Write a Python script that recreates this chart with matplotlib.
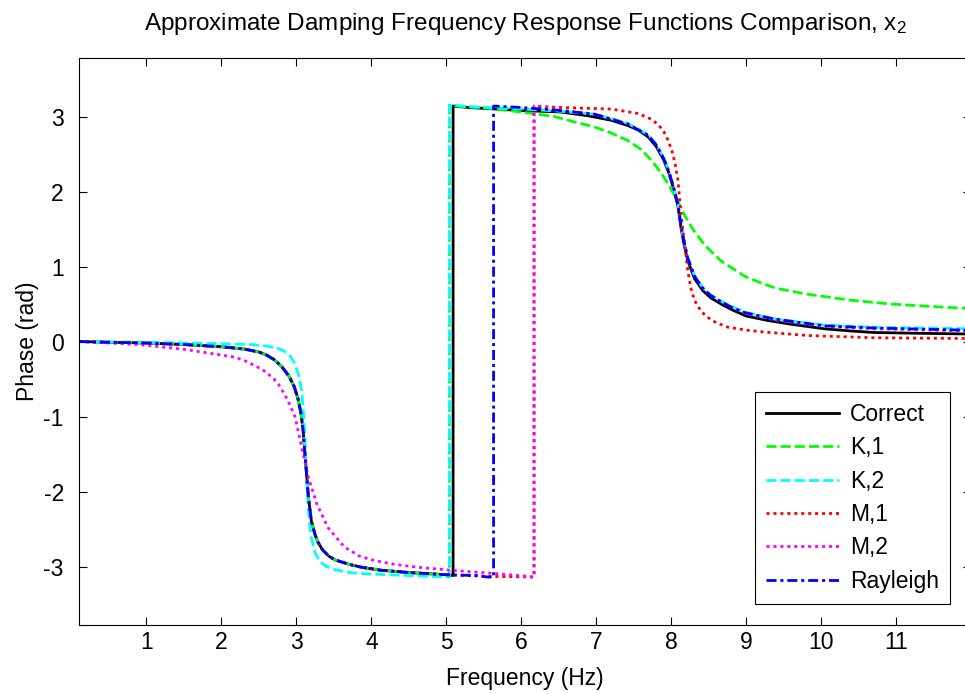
import numpy as np
import matplotlib.pyplot as plt

plt.rcParams['font.family'] = ['Liberation Sans', 'DejaVu Sans']
plt.rcParams['mathtext.fontset'] = 'custom'
plt.rcParams['mathtext.rm'] = 'Liberation Sans'
plt.rcParams['mathtext.it'] = 'Liberation Sans'
plt.rcParams['axes.unicode_minus'] = False

# phase (rad) vs frequency (Hz) for each damping approximation
correct_f = [0.1, 0.5, 1.0, 1.5, 2.0, 2.3, 2.5, 2.6, 2.7, 2.8, 2.9, 2.97, 3.02, 3.06, 3.09, 3.11, 3.13,
             3.16, 3.2, 3.25, 3.29, 3.35, 3.43, 3.51, 3.7, 3.87, 4.13, 4.5, 5.0, 5.09,
             5.09, 5.3, 6.0, 6.53, 6.89, 7.2, 7.42, 7.56, 7.69, 7.8, 7.9, 7.97, 8.03, 8.09, 8.13, 8.17, 8.22,
             8.31, 8.42, 8.53, 8.7, 8.84, 9.0, 9.29, 9.6, 10.04, 10.4, 10.71, 11.3, 12.0]
correct_p = [0.0, -0.01, -0.02, -0.04, -0.07, -0.1, -0.14, -0.18, -0.24, -0.33, -0.46, -0.6, -0.76, -0.95, -1.19, -1.45, -1.7,
             -2.08, -2.4, -2.58, -2.68, -2.78, -2.86, -2.91, -2.97, -3.01, -3.05, -3.08, -3.11, -3.12,
             3.14, 3.12, 3.08, 3.06, 3.01, 2.95, 2.88, 2.82, 2.73, 2.6, 2.42, 2.24, 2.04, 1.8, 1.52, 1.3, 1.08,
             0.84, 0.68, 0.58, 0.48, 0.41, 0.34, 0.28, 0.23, 0.17, 0.14, 0.12, 0.11, 0.1]

k1_f = [0.1, 0.5, 1.0, 1.5, 2.0, 2.3, 2.5, 2.6, 2.7, 2.8, 2.9, 2.97, 3.02, 3.06, 3.09, 3.11, 3.13,
        3.16, 3.2, 3.25, 3.29, 3.35, 3.43, 3.51, 3.7, 3.87, 4.13, 4.5, 5.0, 5.04,
        5.04, 5.56, 6.0, 6.44, 6.7, 6.98, 7.2, 7.42, 7.6, 7.75, 7.87, 7.97, 8.06, 8.18,
        8.3, 8.45, 8.67, 8.98, 9.2, 9.4, 9.82, 10.4, 10.93, 11.6, 12.0]
k1_p = [0.0, -0.01, -0.02, -0.04, -0.07, -0.1, -0.14, -0.18, -0.24, -0.33, -0.46, -0.6, -0.76, -0.95, -1.19, -1.45, -1.7,
        -2.08, -2.4, -2.58, -2.68, -2.78, -2.86, -2.91, -2.97, -3.01, -3.05, -3.08, -3.11, -3.12,
        3.15, 3.11, 3.06, 3.0, 2.93, 2.86, 2.78, 2.68, 2.56, 2.4, 2.24, 2.08, 1.92, 1.68,
        1.48, 1.28, 1.07, 0.87, 0.78, 0.71, 0.63, 0.55, 0.5, 0.46, 0.44]

k2_f = [0.1, 1.0, 2.0, 2.4, 2.6, 2.75, 2.84, 2.92, 2.98, 3.03, 3.07, 3.09, 3.11, 3.13, 3.15, 3.17,
        3.2, 3.25, 3.31, 3.4, 3.51, 3.7, 3.96, 4.5, 5.0, 5.04,
        5.04, 5.3, 6.0, 6.53, 6.98, 7.42, 7.69, 7.8, 7.9, 7.97, 8.03, 8.09, 8.13, 8.17, 8.22, 8.31, 8.42,
        8.53, 8.7, 8.84, 9.0, 9.38, 10.04, 10.71, 12.0]
k2_p = [0.0, -0.01, -0.03, -0.04, -0.06, -0.09, -0.13, -0.2, -0.3, -0.45, -0.65, -0.9, -1.19, -1.72, -2.1, -2.38,
        -2.62, -2.82, -2.93, -3.0, -3.04, -3.08, -3.1, -3.12, -3.14, -3.14,
        3.15, 3.13, 3.1, 3.07, 3.03, 2.91, 2.76, 2.63, 2.45, 2.27, 2.07, 1.84, 1.56, 1.34, 1.12, 0.88, 0.72,
        0.62, 0.52, 0.45, 0.39, 0.3, 0.22, 0.19, 0.17]

m1_f = [0.1, 0.5, 1.0, 1.5, 2.0, 2.3, 2.5, 2.6, 2.7, 2.8, 2.9, 2.97, 3.02, 3.06, 3.09, 3.11, 3.13,
        3.16, 3.2, 3.25, 3.29, 3.35, 3.43, 3.51, 3.7, 3.87, 4.13, 4.5, 5.0, 5.5, 6.17,
        6.17, 6.53, 7.2, 7.56, 7.72, 7.82, 7.9, 7.96, 8.01, 8.05, 8.09, 8.13, 8.18, 8.22, 8.26, 8.31, 8.4, 8.49,
        8.6, 8.76, 9.02, 9.2, 9.82, 10.71, 12.0]
m1_p = [0.0, -0.01, -0.02, -0.04, -0.07, -0.1, -0.14, -0.18, -0.24, -0.33, -0.46, -0.6, -0.76, -0.95, -1.19, -1.45, -1.7,
        -2.08, -2.4, -2.58, -2.68, -2.78, -2.86, -2.91, -2.97, -3.01, -3.05, -3.08, -3.11, -3.13, -3.14,
        3.14, 3.12, 3.1, 3.04, 2.97, 2.9, 2.8, 2.68, 2.54, 2.38, 2.15, 1.7, 1.3, 0.95, 0.72, 0.55, 0.4, 0.32,
        0.25, 0.19, 0.15, 0.13, 0.08, 0.05, 0.04]

m2_f = [0.1, 0.89, 1.47, 2.0, 2.18, 2.32, 2.44, 2.54, 2.62, 2.7, 2.76, 2.84, 2.91, 2.98, 3.07, 3.16, 3.27, 3.42, 3.64,
        3.84, 4.04, 4.3, 4.62, 5.07, 5.73, 6.17,
        6.17, 6.53, 6.98, 7.42, 7.69, 7.8, 7.9, 7.97, 8.03, 8.09, 8.13, 8.17, 8.22, 8.31, 8.42, 8.53, 8.7, 8.84,
        9.0, 9.38, 10.04, 10.71, 12.0]
m2_p = [0.0, -0.04, -0.1, -0.18, -0.21, -0.26, -0.32, -0.37, -0.43, -0.5, -0.57, -0.7, -0.84, -1.0, -1.41, -1.81, -2.16, -2.48, -2.74,
        -2.86, -2.92, -2.97, -3.01, -3.05, -3.1, -3.14,
        3.14, 3.08, 3.03, 2.9, 2.75, 2.62, 2.44, 2.26, 2.06, 1.83, 1.55, 1.33, 1.11, 0.87, 0.71, 0.61, 0.51, 0.44,
        0.37, 0.29, 0.2, 0.17, 0.14]

ray_f = [0.1, 0.5, 1.0, 1.5, 2.0, 2.3, 2.5, 2.6, 2.7, 2.8, 2.9, 2.97, 3.02, 3.06, 3.09, 3.11, 3.13,
         3.16, 3.2, 3.25, 3.29, 3.35, 3.43, 3.51, 3.7, 3.87, 4.13, 4.5, 5.0, 5.4, 5.55, 5.63,
         5.63, 6.0, 6.53, 6.98, 7.42, 7.69, 7.8, 7.9, 7.97, 8.03, 8.09, 8.13, 8.17, 8.22, 8.31, 8.42, 8.53,
         8.7, 8.84, 9.0, 9.38, 10.04, 10.71, 12.0]
ray_p = [0.0, -0.01, -0.02, -0.04, -0.07, -0.1, -0.14, -0.18, -0.24, -0.33, -0.46, -0.6, -0.76, -0.95, -1.19, -1.45, -1.7,
         -2.08, -2.4, -2.58, -2.68, -2.78, -2.86, -2.91, -2.97, -3.01, -3.05, -3.08, -3.11, -3.12, -3.14, -3.14,
         3.14, 3.12, 3.08, 3.03, 2.9, 2.75, 2.62, 2.44, 2.26, 2.06, 1.83, 1.55, 1.33, 1.11, 0.87, 0.71, 0.61,
         0.51, 0.44, 0.38, 0.3, 0.21, 0.18, 0.15]

labels = ['Correct', 'K,1', 'K,2', 'M,1', 'M,2', 'Rayleigh']

fig = plt.figure(figsize=(9.65, 6.94), dpi=100)
ax = fig.add_axes([0.0819, 0.0994, 0.9244, 0.817])

lw = 2.0
ax.plot(correct_f, correct_p, color='black', lw=lw, label=labels[0])
ax.plot(k1_f, k1_p, color='#00ff00', lw=lw, dashes=(3.6, 1.5), label=labels[1])
ax.plot(k2_f, k2_p, color='cyan', lw=lw, dashes=(3.6, 1.5), label=labels[2])
ax.plot(m1_f, m1_p, color='red', lw=lw, dashes=(1.1, 1.4), label=labels[3])
ax.plot(m2_f, m2_p, color='magenta', lw=lw, dashes=(1.1, 1.4), label=labels[4])
ax.plot(ray_f, ray_p, color='blue', lw=lw, dashes=(3.6, 1.4, 1.1, 1.4), label=labels[5])

fs = 16.5
ax.set_xlim(0.1, 12)
ax.set_ylim(-3.78, 3.78)
ax.set_xticks(np.arange(1, 12))
ax.set_yticks(np.arange(-3, 4))
ax.tick_params(direction='in', top=True, right=True, length=6, width=0.8,
               labelsize=fs)
ax.tick_params(axis='x', pad=4)
ax.tick_params(axis='y', pad=11)
for s in ax.spines.values():
    s.set_linewidth(0.8)

ax.set_xlabel('Frequency (Hz)', fontsize=fs, labelpad=10)
ax.set_ylabel('Phase (rad)', fontsize=fs, labelpad=3)
ax.set_title('Approximate Damping Frequency Response Functions Comparison, x$_2$',
             fontsize=17.5, pad=20)

leg = ax.legend(loc='lower right', bbox_to_anchor=(0.9765, 0.037), fontsize=fs,
                handlelength=3.2, handletextpad=0.45, labelspacing=0.45,
                borderpad=0.5, borderaxespad=0, fancybox=False, framealpha=1,
                edgecolor='black')
leg.get_frame().set_linewidth(0.8)

fig.savefig('out.png', dpi=100)
